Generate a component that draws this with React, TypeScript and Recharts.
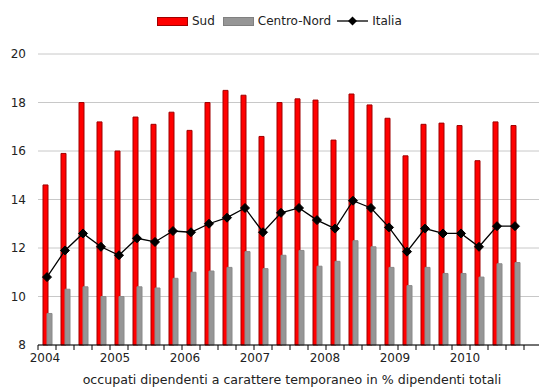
import React from 'react';
import {
  ComposedChart,
  Bar,
  Line,
  XAxis,
  YAxis,
  CartesianGrid,
} from 'recharts';

const years = ['2004', '2005', '2006', '2007', '2008', '2009', '2010'];
const quarterNames = ['I', 'II', 'III', 'IV'];

// Sud, Centro-Nord and Italia, one value per quarter (2010 Q4 is missing)
const sud = [
  14.6, 15.9, 18.0, 17.2, 16.0, 17.4, 17.1, 17.6, 16.85, 18.0, 18.5, 18.3,
  16.6, 18.0, 18.15, 18.1, 16.45, 18.35, 17.9, 17.35, 15.8, 17.1, 17.15, 17.05,
  15.6, 17.2, 17.05,
];
const centroNord = [
  9.3, 10.3, 10.4, 10.0, 10.0, 10.4, 10.35, 10.75, 11.0, 11.05, 11.2, 11.85,
  11.15, 11.7, 11.9, 11.25, 11.45, 12.3, 12.05, 11.2, 10.45, 11.2, 10.95, 10.95,
  10.8, 11.35, 11.4,
];
const italia = [
  10.8, 11.9, 12.6, 12.05, 11.7, 12.4, 12.25, 12.7, 12.65, 13.0, 13.25, 13.65,
  12.65, 13.45, 13.65, 13.15, 12.8, 13.95, 13.65, 12.85, 11.85, 12.8, 12.6, 12.6,
  12.05, 12.9, 12.9,
];
const yTicks = [8, 10, 12, 14, 16, 18, 20];

const FONT = '"DejaVu Sans", Verdana, sans-serif';

const data = years.flatMap((year, yi) =>
  quarterNames.map((q, qi) => {
    const i = yi * 4 + qi;
    return {
      name: `${q} ${year}`,
      year,
      sud: sud[i] ?? null,
      centroNord: centroNord[i] ?? null,
      italia: italia[i] ?? null,
    };
  })
);

// ticks sit between categories, year label only on the first quarter
const QuarterTick = (props: any) => {
  const { x, y, payload, index } = props;
  const half = payload && payload.offset ? payload.offset : 9;
  const yearIdx = Math.floor(index / 4);
  return (
    <g>
      <line x1={x - half} x2={x - half} y1={y} y2={y + 5} stroke="#000" strokeWidth={1} />
      {index % 4 === 0 && (
        <text
          x={x - 2 - 2 * yearIdx}
          y={y + 17}
          textAnchor="middle"
          fill="#222"
          fontSize={12}
          fontFamily={FONT}
        >
          {years[yearIdx]}
        </text>
      )}
    </g>
  );
};

const Diamond = (props: any) => {
  const { cx, cy, value } = props;
  if (value == null || cx == null || cy == null) return <g />;
  const r = 4.5;
  return (
    <path
      d={`M${cx},${cy - r}L${cx + r},${cy}L${cx},${cy + r}L${cx - r},${cy}Z`}
      fill="#000"
      stroke="#000"
    />
  );
};

const Legend = () => (
  <div
    style={{
      position: 'absolute',
      top: 14,
      left: 157,
      display: 'flex',
      alignItems: 'center',
      fontFamily: FONT,
      fontSize: 12,
      lineHeight: '14px',
      color: '#222',
      whiteSpace: 'nowrap',
    }}
  >
    <span style={{ display: 'inline-block', width: 29, height: 7, background: '#ff0000', border: '1px solid #a00000' }} />
    <span style={{ marginLeft: 4, marginRight: 8 }}>Sud</span>
    <span style={{ display: 'inline-block', width: 29, height: 7, background: '#969696', border: '1px solid #808080' }} />
    <span style={{ marginLeft: 4, marginRight: 6 }}>Centro-Nord</span>
    <svg width={31} height={10} style={{ display: 'inline-block' }}>
      <line x1={0} x2={31} y1={5} y2={5} stroke="#000" strokeWidth={1.3} />
      <path d="M15.5,0.5L20,5L15.5,9.5L11,5Z" fill="#000" />
    </svg>
    <span style={{ marginLeft: 4 }}>Italia</span>
  </div>
);

export default function App() {
  return (
    <div
      style={{
        position: 'relative',
        width: 539,
        height: 392,
        overflow: 'hidden',
        background: '#fff',
      }}
    >
      <style>{'body{margin:0;}'}</style>
      <Legend />
      <div style={{ position: 'absolute', left: 0, top: 0 }}>
        <ComposedChart
          width={542}
          height={392}
          data={data}
          margin={{ top: 54, right: 0, bottom: 17, left: 0 }}
          barGap={-1}
          barSize={5}
        >
          <CartesianGrid vertical={false} stroke="#c8c8c8" strokeWidth={1} />
          <XAxis
            dataKey="name"
            interval={0}
            height={30}
            axisLine={{ stroke: '#000', strokeWidth: 1 }}
            tickLine={false}
            tickSize={0}
            tickMargin={0}
            tick={<QuarterTick />}
          />
          <YAxis
            domain={[8, 20]}
            ticks={yTicks}
            width={38}
            axisLine={false}
            tickLine={false}
            tickSize={0}
            tickMargin={12}
            tick={{ fill: '#222', fontSize: 12, fontFamily: FONT }}
          />
          <Bar dataKey="sud" fill="#ff0000" stroke="#a00000" strokeWidth={1} isAnimationActive={false} />
          <Bar dataKey="centroNord" fill="#969696" stroke="#8a8a8a" strokeWidth={1} isAnimationActive={false} />
          <Line
            dataKey="italia"
            stroke="#000"
            strokeWidth={1.3}
            dot={<Diamond />}
            activeDot={false}
            isAnimationActive={false}
          />
        </ComposedChart>
      </div>
      <div
        style={{
          position: 'absolute',
          top: 372,
          left: 0,
          width: 584,
          textAlign: 'center',
          fontFamily: FONT,
          fontSize: 12.6,
          lineHeight: '15px',
          color: '#222',
          whiteSpace: 'nowrap',
        }}
      >
        occupati dipendenti a carattere temporaneo in % dipendenti totali
      </div>
    </div>
  );
}
